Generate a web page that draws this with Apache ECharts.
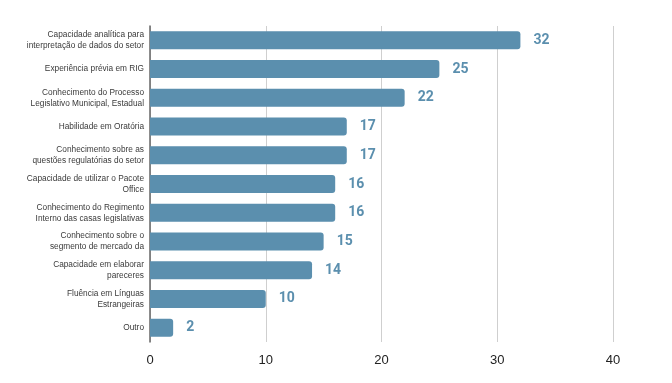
<!DOCTYPE html>
<html><head><meta charset="utf-8">
<script src="https://cdn.jsdelivr.net/npm/echarts@6/dist/echarts.min.js"></script>
<style>html,body{margin:0;padding:0;background:#fff}#c{width:672px;height:383px}</style>
</head><body><div id="c"></div>
<script>
const categories = [
  "Capacidade analítica para\ninterpretação de dados do setor",
  "Experiência prévia em RIG",
  "Conhecimento do Processo\nLegislativo Municipal, Estadual",
  "Habilidade em Oratória",
  "Conhecimento sobre as\nquestões regulatórias do setor",
  "Capacidade de utilizar o Pacote\nOffice",
  "Conhecimento do Regimento\nInterno das casas legislativas",
  "Conhecimento sobre o\nsegmento de mercado da",
  "Capacidade em elaborar\npareceres",
  "Fluência em Línguas\nEstrangeiras",
  "Outro"
];
const values = [32, 25, 22, 17, 17, 16, 16, 15, 14, 10, 2];
const xTicks = [0, 10, 20, 30, 40];

const chart = echarts.init(document.getElementById('c'), null, {renderer: 'canvas'});
chart.setOption({
  animation: false,
  grid: {left: 150, right: 59, top: 26, bottom: 41, containLabel: false},
  xAxis: {
    type: 'value', min: xTicks[0], max: xTicks[xTicks.length - 1], interval: 10,
    axisLine: {show: false}, axisTick: {show: false},
    splitLine: {show: true, lineStyle: {color: '#cfcfcf', width: 1}},
    axisLabel: {color: '#222', fontSize: 13, fontFamily: 'Liberation Sans, Arial', margin: 12}
  },
  yAxis: {
    type: 'category', data: categories, inverse: true,
    axisLine: {show: true, lineStyle: {color: '#666', width: 1.5}},
    axisTick: {show: false},
    axisLabel: {color: '#3a3a3a', fontSize: 8.3, fontFamily: 'Liberation Sans, Arial', lineHeight: 11, margin: 6, align: 'right', interval: 0}
  },
  series: [{
    type: 'bar', data: values, barWidth: 18,
    itemStyle: {color: '#5b8fae', borderRadius: [0, 3, 3, 0]},
    label: {show: true, position: 'right', distance: 13, color: '#5b8fae', fontWeight: 'bold', fontSize: 14, fontFamily: 'Roboto, Liberation Sans'}
  }]
});
</script></body></html>
